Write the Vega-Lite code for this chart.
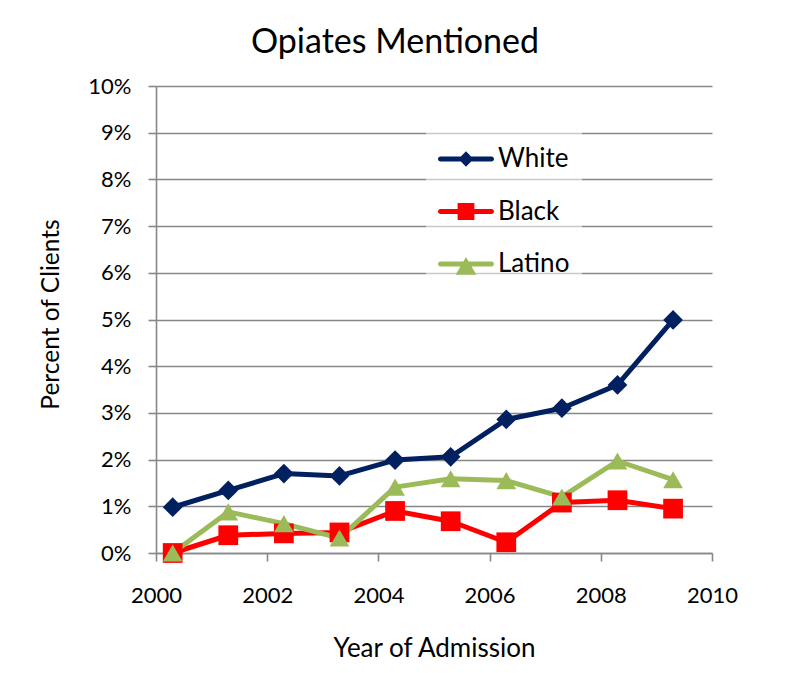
{
  "$schema": "https://vega.github.io/schema/vega-lite/v6.json",
  "autosize": {"type": "none"},
  "padding": {"left": 156, "top": 86, "right": 75, "bottom": 120},
  "width": 556,
  "height": 467,
  "background": "white",
  "config": {
    "font": "Lato",
    "view": {"stroke": null},
    "axis": {
      "domainColor": "#878787",
      "domainWidth": 1.6,
      "tickColor": "#878787",
      "tickWidth": 1.6,
      "tickSize": 8,
      "gridColor": "#878787",
      "gridWidth": 1.6,
      "labelColor": "#000000",
      "titleColor": "#000000",
      "labelFont": "Lato",
      "titleFont": "Lato",
      "labelFontSize": 22,
      "labelFlush": false,
      "titleFontWeight": "normal"
    }
  },
  "title": {
    "text": "Opiates Mentioned",
    "font": "Lato",
    "fontSize": 34,
    "fontWeight": "normal",
    "color": "#000000",
    "anchor": "middle",
    "frame": "group",
    "baseline": "alphabetic",
    "offset": 21,
    "dx": -39,
    "dy": 33
  },
  "data": {
    "values": [
      {"year": 2000.3, "series": "White", "pct": 0.0098},
      {"year": 2001.3, "series": "White", "pct": 0.0134},
      {"year": 2002.3, "series": "White", "pct": 0.0170},
      {"year": 2003.3, "series": "White", "pct": 0.0165},
      {"year": 2004.3, "series": "White", "pct": 0.0199},
      {"year": 2005.3, "series": "White", "pct": 0.0206},
      {"year": 2006.3, "series": "White", "pct": 0.0286},
      {"year": 2007.3, "series": "White", "pct": 0.0310},
      {"year": 2008.3, "series": "White", "pct": 0.0360},
      {"year": 2009.3, "series": "White", "pct": 0.0499},
      {"year": 2000.3, "series": "Black", "pct": 0.0000},
      {"year": 2001.3, "series": "Black", "pct": 0.0038},
      {"year": 2002.3, "series": "Black", "pct": 0.0042},
      {"year": 2003.3, "series": "Black", "pct": 0.0044},
      {"year": 2004.3, "series": "Black", "pct": 0.0090},
      {"year": 2005.3, "series": "Black", "pct": 0.0068},
      {"year": 2006.3, "series": "Black", "pct": 0.0023},
      {"year": 2007.3, "series": "Black", "pct": 0.0108},
      {"year": 2008.3, "series": "Black", "pct": 0.0113},
      {"year": 2009.3, "series": "Black", "pct": 0.0095},
      {"year": 2000.3, "series": "Latino", "pct": 0.0000},
      {"year": 2001.3, "series": "Latino", "pct": 0.0088},
      {"year": 2002.3, "series": "Latino", "pct": 0.0063},
      {"year": 2003.3, "series": "Latino", "pct": 0.0032},
      {"year": 2004.3, "series": "Latino", "pct": 0.0141},
      {"year": 2005.3, "series": "Latino", "pct": 0.0159},
      {"year": 2006.3, "series": "Latino", "pct": 0.0155},
      {"year": 2007.3, "series": "Latino", "pct": 0.0120},
      {"year": 2008.3, "series": "Latino", "pct": 0.0197},
      {"year": 2009.3, "series": "Latino", "pct": 0.0157}
    ]
  },
  "encoding": {
    "x": {
      "field": "year",
      "type": "quantitative",
      "scale": {"domain": [2000, 2010], "nice": false, "zero": false},
      "axis": {
        "title": "Year of Admission",
        "values": [2000, 2002, 2004, 2006, 2008, 2010],
        "format": "d",
        "grid": false,
        "labelPadding": 24,
        "titleFontSize": 26,
        "titlePadding": 29
      }
    },
    "y": {
      "field": "pct",
      "type": "quantitative",
      "scale": {"domain": [0, 0.1], "nice": false},
      "axis": {
        "title": "Percent of Clients",
        "values": [0, 0.01, 0.02, 0.03, 0.04, 0.05, 0.06, 0.07, 0.08, 0.09, 0.1],
        "format": ".0%",
        "grid": true,
        "labelPadding": 17,
        "titleFontSize": 24.5,
        "titlePadding": 24,
        "titleY": 228
      }
    },
    "color": {
      "field": "series",
      "type": "nominal",
      "scale": {
        "domain": ["White", "Black", "Latino"],
        "range": ["#002060", "#FF0000", "#9BBB59"]
      },
      "legend": null
    }
  },
  "layer": [
    {
      "mark": {"type": "line", "strokeWidth": 5, "strokeJoin": "round", "strokeCap": "round"},
      "encoding": {"detail": {"field": "series"}}
    },
    {
      "mark": {"type": "point", "filled": true, "opacity": 1, "size": 390, "strokeWidth": 0},
      "encoding": {
        "shape": {
          "field": "series",
          "type": "nominal",
          "scale": {
            "domain": ["White", "Black", "Latino"],
            "range": ["diamond", "square", "triangle-up"]
          },
          "legend": null
        }
      }
    },
    {
      "mark": {"type": "point", "filled": true, "opacity": 0, "size": 10},
      "encoding": {
        "shape": {
          "field": "series",
          "type": "nominal",
          "scale": {
            "domain": ["White", "Black", "Latino"],
            "range": [
              "M-0.91,-0.09H0.91A0.09,0.09 0 0 1 0.91,0.09H-0.91A0.09,0.09 0 0 1 -0.91,-0.09ZM-0.27,0L0,-0.28L0.27,0L0,0.28Z",
              "M-0.91,-0.09H0.91A0.09,0.09 0 0 1 0.91,0.09H-0.91A0.09,0.09 0 0 1 -0.91,-0.09ZM-0.3,-0.3H0.3V0.3H-0.3Z",
              "M-0.91,-0.09H0.91A0.09,0.09 0 0 1 0.91,0.09H-0.91A0.09,0.09 0 0 1 -0.91,-0.09ZM-0.37,0.38L0,-0.25L0.37,0.38Z"
            ]
          },
          "legend": {
            "title": null,
            "orient": "none",
            "legendX": 270,
            "legendY": 33,
            "symbolSize": 3136,
            "symbolOpacity": 1,
            "symbolStrokeWidth": 0,
            "symbolFillColor": "#002060",
            "labelFontSize": 26,
            "labelFont": "Lato",
            "labelColor": "#000000",
            "labelOffset": 4,
            "rowPadding": 11.5,
            "padding": 12,
            "fillColor": "rgba(255,255,255,0.55)",
            "encode": {
              "symbols": {
                "update": {
                  "fill": {"scale": "color", "field": "value"}
                }
              }
            }
          }
        }
      }
    }
  ],
  "resolve": {"scale": {"shape": "independent"}}
}
